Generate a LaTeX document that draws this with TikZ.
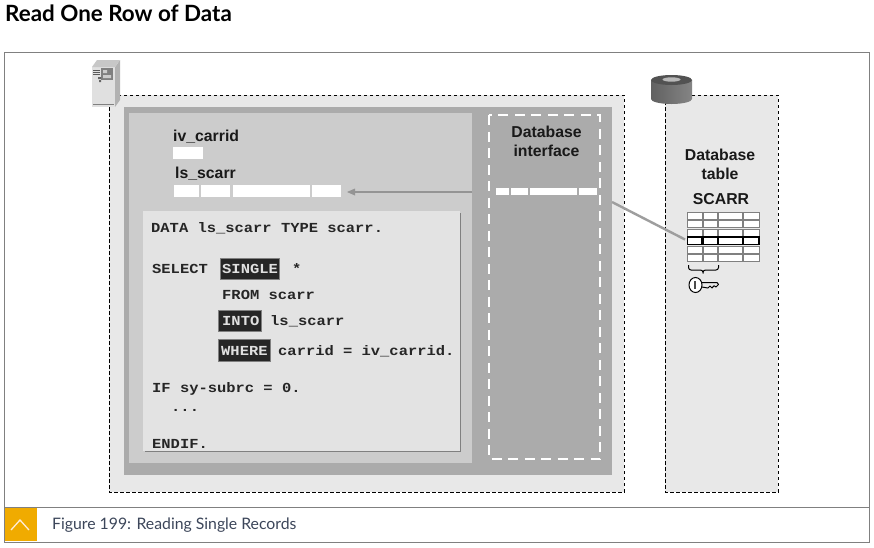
\documentclass[tikz,border=0pt]{standalone}
\usepackage{fontspec}
\setmainfont{Liberation Sans}
\newfontfamily\codef[FakeStretch=1.12]{Liberation Mono}
\newfontfamily\titlef{Lato}
\definecolor{sapgold}{RGB}{240,171,0}
\definecolor{capblue}{RGB}{60,70,90}
\begin{document}
\begin{tikzpicture}[x=1pt,y=-1pt,
  lab/.style={inner sep=0pt,font=\bfseries\fontsize{15.8}{16}\selectfont,text=black!90,anchor=base},
  code/.style={inner sep=0pt,anchor=base west,font=\codef\bfseries\fontsize{13.8}{14}\selectfont,text=black!85},
  kw/.style={code,text=white!88!black},
  kwbox/.style={fill=black!85,draw=gray,line width=.4pt},
  cellw/.style={fill=white,draw=none},
  tbl/.style={draw=black!50,line width=1pt,fill=white},
  tblh/.style={draw=black,line width=1.2pt,fill=white},
  dash1/.style={draw=black,line width=.8pt,dash pattern=on 3.5pt off 2.5pt}]
\useasboundingbox (0,0) rectangle (874,547);
\fill[white] (0,0) rectangle (874,547);
% title
\node[inner sep=0pt,anchor=base west,font=\titlef\bfseries\fontsize{22.4}{22}\selectfont] (title) at (5,21) {Read One Row of Data};
% frame
\draw[black!50,line width=1pt] (4.5,52.5) rectangle (869,542);
\draw[black!50,line width=1pt] (4.5,507.5) -- (869,507.5);
\fill[sapgold] (5,508) rectangle (37,541);
\draw[white!85!orange,line width=1.3pt] (11,530) -- (20,520) -- (29,530);
\node[inner sep=0pt,anchor=base west,font=\titlef\fontsize{15.8}{16}\selectfont,text=capblue] (caption) at (52,529) {Figure 199: Reading Single Records};
% application server area
\draw[dash1,fill=black!9] (109,95) rectangle (624,492);
\fill[black!33] (124,107) rectangle (612,475);
\fill[black!20] (129,113) rectangle (472,463);
% database area
\draw[dash1,fill=black!9] (665,95) rectangle (778,492);
% code box
\fill[black!50] (145,213) rectangle (461,452);
\fill[black!11] (143,211) rectangle (460,451);
% interface box
\draw[white,line width=2pt,dash pattern=on 10pt off 6.5pt] (489,115) rectangle (600,459);
% server icon
\fill[black!12] (92,67) rectangle (115,107);
\fill[black!30] (115,67) -- (120,60) -- (120,100) -- (115,107) -- cycle;
\fill[black!22] (92,67) -- (97,60) -- (120,60) -- (115,67) -- cycle;
\fill[black!50] (101,68) rectangle (113,80);
\fill[black!20] (103,70) rectangle (107,73) (103,75) rectangle (111,78);
\draw[black!65,line width=.7pt] (93,70) -- (100,70) (93,72) -- (100,72) (93,74) -- (100,74);
\fill[black!60] (98,77) rectangle (101,79) (99,80) rectangle (101,82);
\draw[black!50,line width=.7pt] (93,104) -- (114,104);
% database cylinder
\path[left color=black!62,right color=black!48] (651,80) -- (651,99) arc[start angle=180,end angle=360,x radius=20.5,y radius=-5] -- (692,80) -- cycle;
\fill[black!68] (671.5,80) ellipse[x radius=20.5,y radius=5];
\fill[black!28] (671.5,79.5) ellipse[x radius=9,y radius=2.2];
% labels
\node[lab,anchor=base west] (ivc) at (173,141) {iv\_carrid};
\fill[white] (173,147) rectangle (203,159);
\node[lab,anchor=base west] (lss) at (175,178) {ls\_scarr};
\node[cellw,inner sep=0pt,minimum width=25pt,minimum height=12pt] (c1) at (186.5,191) {};
\node[cellw,inner sep=0pt,minimum width=29pt,minimum height=12pt] (c2) at (215.5,191) {};
\node[cellw,inner sep=0pt,minimum width=77pt,minimum height=12pt] (c3) at (271.5,191) {};
\node[cellw,inner sep=0pt,minimum width=29pt,minimum height=12pt] (c4) at (326.5,191) {};
\node[lab] (dbi1) at (546.5,137) {Database};
\node[lab] (dbi2) at (546.5,156) {interface};
\node[cellw,inner sep=0pt,minimum width=13pt,minimum height=7pt] (d1) at (502.5,191.5) {};
\node[cellw,inner sep=0pt,minimum width=17pt,minimum height=7pt] (d2) at (519.5,191.5) {};
\node[cellw,inner sep=0pt,minimum width=47pt,minimum height=7pt] (d3) at (553.5,191.5) {};
\node[cellw,inner sep=0pt,minimum width=18pt,minimum height=7pt] (d4) at (588,191.5) {};
% arrow
\coordinate (src) at (472,192);
\coordinate (tip) at (347,192);
\draw[black!42,line width=1.3pt] (src) -- (352,192);
\fill[black!42] (tip) -- (355,188.5) -- (355,195.5) -- cycle;
% database table
\node[lab] (dbt1) at (720,160) {Database};
\node[lab] (dbt2) at (720,179) {table};
\node[lab] (scarr) at (721,204) {SCARR};
\foreach \ya/\yb in {212/219.5,220/227.5,229/236,246/253,254.5/261.5}{
  \foreach \xa/\xb in {687.5/702,703/717.5,718.5/742.5,743.5/759}{
    \draw[tbl] (\xa,\ya) rectangle (\xb,\yb);
  }
}
\foreach \xa/\xb in {687.5/702,703/717.5,718.5/742.5,743.5/759}{
  \draw[tblh] (\xa,237) rectangle (\xb,244.5);
}
\coordinate (rowin) at (612,202);
\coordinate (rowhit) at (685,239.5);
\draw[black!38,line width=2.4pt] (rowin) -- (rowhit);
% brace and key
\draw[black,line width=1pt,rounded corners=2.5pt] (688.5,265) -- (688.5,270) -- (703,270) -- (703,275) -- (703,270) -- (718.5,270) -- (718.5,265);
\draw[black,line width=1pt,fill=white] (695.5,285) ellipse[x radius=6.5,y radius=7.5];
\fill[black!70] (694,281) rectangle (695.8,289);
\draw[black,line width=1pt,line join=round] (702,282.5) -- (717,282.5) -- (718.5,284.5) -- (716,287) -- (714,285.7) -- (712,288) -- (710,286) -- (708,288) -- (702,287);
% code
\node[code] (l1) at (151,232) {DATA ls\_scarr TYPE scarr.};
\node[code] (l2) at (152,273) {SELECT};
\fill[kwbox] (220,258.5) rectangle (279,279);
\node[kw] (k1) at (222,273) {SINGLE};
\node[code] (l2b) at (292,273) {*};
\node[code] (l3) at (222,299) {FROM scarr};
\fill[kwbox] (218.5,310) rectangle (261,331);
\node[kw] (k2) at (222,325) {INTO};
\node[code] (l4) at (270,325) {ls\_scarr};
\fill[kwbox] (218.5,339.5) rectangle (270,361);
\node[kw] (k3) at (221,355) {WHERE};
\node[code] (l5) at (278,355) {carrid = iv\_carrid.};
\node[code] (l6) at (152,392) {IF sy-subrc = 0.};
\node[code] (l7) at (171,411) {...};
\node[code] (l8) at (152,448) {ENDIF.};
\end{tikzpicture}
\end{document}
